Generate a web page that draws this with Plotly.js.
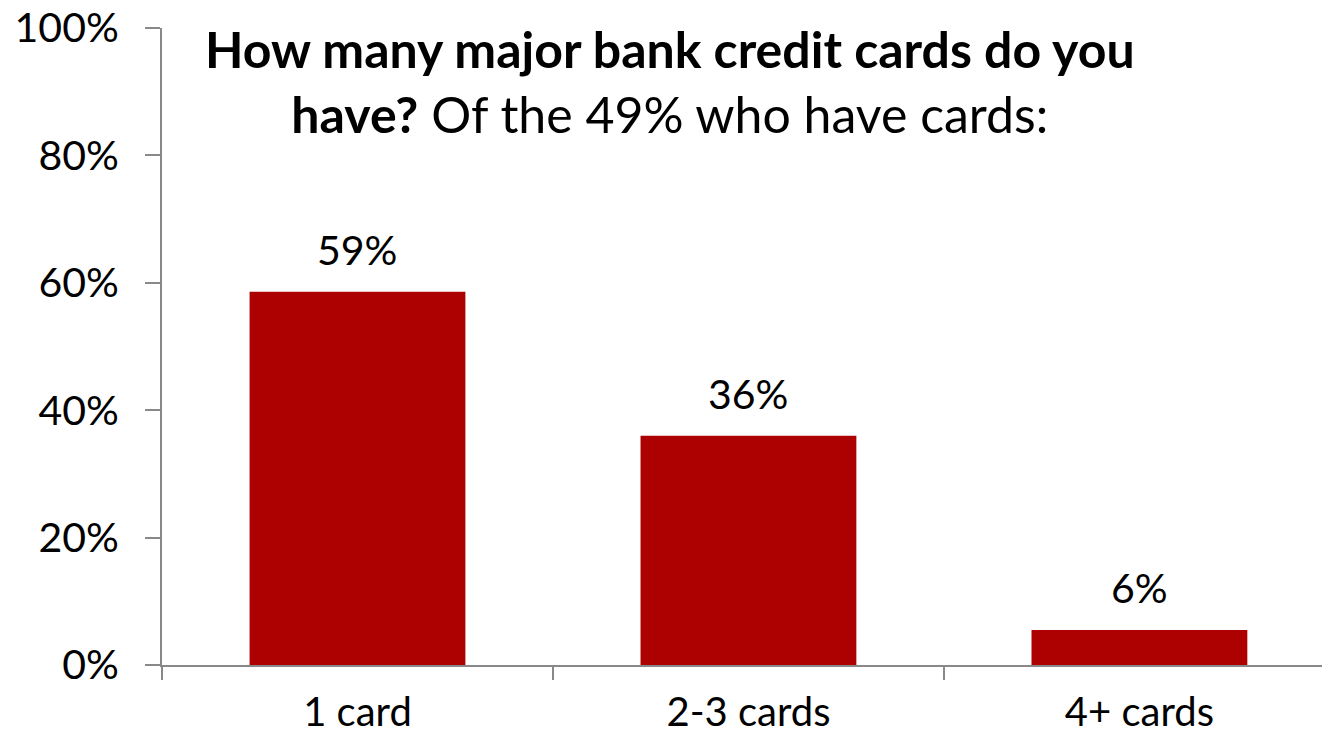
<!DOCTYPE html>
<html>
<head>
<meta charset="utf-8">
<script src="https://cdn.plot.ly/plotly-3.0.1.min.js"></script>
<style>html,body{margin:0;padding:0;background:#fff;}#chart{width:1322px;height:736px;}</style>
</head>
<body>
<div id="chart"></div>
<script>
var categories = ['1 card', '2-3 cards', '4+ cards'];
var values = [58.6, 36.0, 5.5];
var valueLabels = ['59%', '36%', '6%'];
var yTicks = [0, 20, 40, 60, 80, 100];
var yTickText = ['0%', '20%', '40%', '60%', '80%', '100%'];

var FONT = 'Lato, "Open Sans", sans-serif';
var axisColor = '#898989';

var trace = {
  type: 'bar',
  x: categories,
  y: values,
  width: 0.552,
  marker: {color: '#AD0000'},
  hoverinfo: 'skip'
};

var annotations = categories.map(function (c, i) {
  return {
    x: c, y: values[i], xref: 'x', yref: 'y',
    text: valueLabels[i], showarrow: false,
    yanchor: 'bottom', yshift: 16,
    font: {family: FONT, size: 41, color: '#000'}
  };
});

annotations.push({
  xref: 'paper', yref: 'paper',
  x: 0.438, xanchor: 'center',
  y: 1.018, yanchor: 'top',
  showarrow: false, align: 'center',
  text: '<b>How many major bank credit cards do you</b><br><b>have?</b> Of the 49% who have cards:',
  font: {family: FONT, size: 50, color: '#000'}
});

var layout = {
  width: 1322, height: 736,
  margin: {l: 162, r: 0, t: 28, b: 71, pad: 0},
  paper_bgcolor: '#fff', plot_bgcolor: '#fff',
  showlegend: false,
  xaxis: {
    type: 'category',
    range: [-0.5, 2.467],
    showline: true, linecolor: axisColor, linewidth: 2,
    ticks: 'outside', tickson: 'boundaries', ticklen: 13, tickwidth: 2, tickcolor: axisColor,
    tickfont: {family: FONT, size: 40, color: '#000'},
    ticklabelstandoff: 11,
    showgrid: false, zeroline: false, automargin: false, fixedrange: true
  },
  yaxis: {
    range: [0, 100],
    tickmode: 'array', tickvals: yTicks, ticktext: yTickText,
    showline: true, linecolor: axisColor, linewidth: 2,
    ticks: 'outside', ticklen: 15, tickwidth: 2, tickcolor: axisColor,
    tickfont: {family: FONT, size: 41, color: '#000'},
    ticklabelstandoff: 18,
    showgrid: false, zeroline: false, automargin: false, fixedrange: true
  },
  annotations: annotations
};

Plotly.newPlot('chart', [trace], layout, {displayModeBar: false, staticPlot: true});
</script>
</body>
</html>
